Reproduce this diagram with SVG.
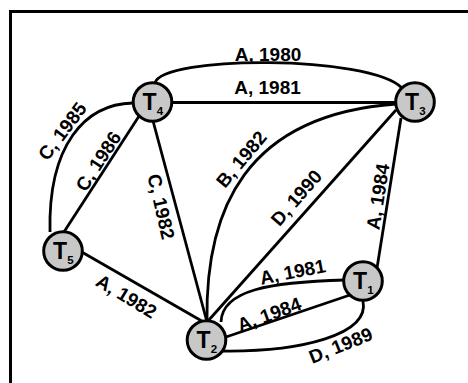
<svg xmlns="http://www.w3.org/2000/svg" width="468" height="383" viewBox="0 0 468 383">
  <style>
    .frame { fill: none; stroke: #000; stroke-width: 3; }
    .edge { fill: none; stroke: #000; stroke-width: 2.8; }
    .node circle { fill: #c8c8c8; stroke: #000; stroke-width: 3; }
    .lbl { font-family: "Liberation Sans", Arial, Helvetica, sans-serif; font-weight: bold; font-size: 19px; fill: #000; text-anchor: middle; }
    .t { font-family: "Liberation Sans", Arial, Helvetica, sans-serif; font-weight: bold; font-size: 23px; fill: #000; text-anchor: middle; }
    .sub { font-family: "Liberation Sans", Arial, Helvetica, sans-serif; font-weight: bold; font-size: 11.5px; fill: #000; text-anchor: middle; }
  </style>
  <rect width="468" height="383" fill="#fff"/>
  <path class="frame" d="M10.5 390 V11.5 H470"/>

  <g id="connectors">
    <!-- T4 - T3 -->
    <path class="edge" d="M155 83 C162 55 370 55 402 88"/>
    <path class="edge" d="M170 102.5 H398"/>
    <!-- T4 - T5 -->
    <path class="edge" d="M133 103 C85 104 48 145 50 232"/>
    <path class="edge" d="M62 235 L143 110"/>
    <!-- T4 - T2 -->
    <path class="edge" d="M149 106 L207 322"/>
    <!-- T2 - T3 -->
    <path class="edge" d="M207 322 C205 210 245 115 396 104"/>
    <path class="edge" d="M208 321 L396 110"/>
    <!-- T3 - T1 -->
    <path class="edge" d="M401 118 L377 268"/>
    <!-- T5 - T2 -->
    <path class="edge" d="M80 251 L207 324"/>
    <!-- T2 - T1 -->
    <path class="edge" d="M221 322 C222 290 270 282 345 280"/>
    <path class="edge" d="M226 337 L350 295"/>
    <path class="edge" d="M222 351 C300 352 370 335 363 301"/>
  </g>

  <g id="edge-labels">
    <text class="lbl" transform="translate(268,54)" y="7">A, 1980</text>
    <text class="lbl" transform="translate(267.5,87)" y="7">A, 1981</text>
    <text class="lbl" transform="translate(62,131) rotate(-53)" y="7">C, 1985</text>
    <text class="lbl" transform="translate(98,161) rotate(-57)" y="7">C, 1986</text>
    <text class="lbl" transform="translate(161.5,206.5) rotate(77)" y="7">C, 1982</text>
    <text class="lbl" transform="translate(241,159) rotate(-50)" y="7">B, 1982</text>
    <text class="lbl" transform="translate(296,197.5) rotate(-49)" y="7">D, 1990</text>
    <text class="lbl" transform="translate(377.5,196.5) rotate(-81)" y="7">A, 1984</text>
    <text class="lbl" transform="translate(126.7,296) rotate(31)" y="7">A, 1982</text>
    <text class="lbl" transform="translate(292.5,271.5) rotate(-11)" y="7">A, 1981</text>
    <text class="lbl" transform="translate(269,314) rotate(-20)" y="7">A, 1984</text>
    <text class="lbl" transform="translate(340.5,345) rotate(-22)" y="7">D, 1989</text>
  </g>

  <g id="T1" class="node">
    <circle cx="363" cy="281" r="19.3"/>
    <text class="t" x="360" y="289">T</text>
    <text class="sub" x="370.5" y="294">1</text>
  </g>
  <g id="T2" class="node">
    <circle cx="206.5" cy="340" r="19.3"/>
    <text class="t" x="203.5" y="348">T</text>
    <text class="sub" x="214" y="353">2</text>
  </g>
  <g id="T3" class="node">
    <circle cx="415" cy="102" r="19.3"/>
    <text class="t" x="412" y="110">T</text>
    <text class="sub" x="422.5" y="115">3</text>
  </g>
  <g id="T4" class="node">
    <circle cx="152.5" cy="102" r="19.3"/>
    <text class="t" x="149.5" y="110">T</text>
    <text class="sub" x="160" y="115">4</text>
  </g>
  <g id="T5" class="node">
    <circle cx="63" cy="251" r="19.3"/>
    <text class="t" x="60" y="259">T</text>
    <text class="sub" x="70.5" y="264">5</text>
  </g>
</svg>
